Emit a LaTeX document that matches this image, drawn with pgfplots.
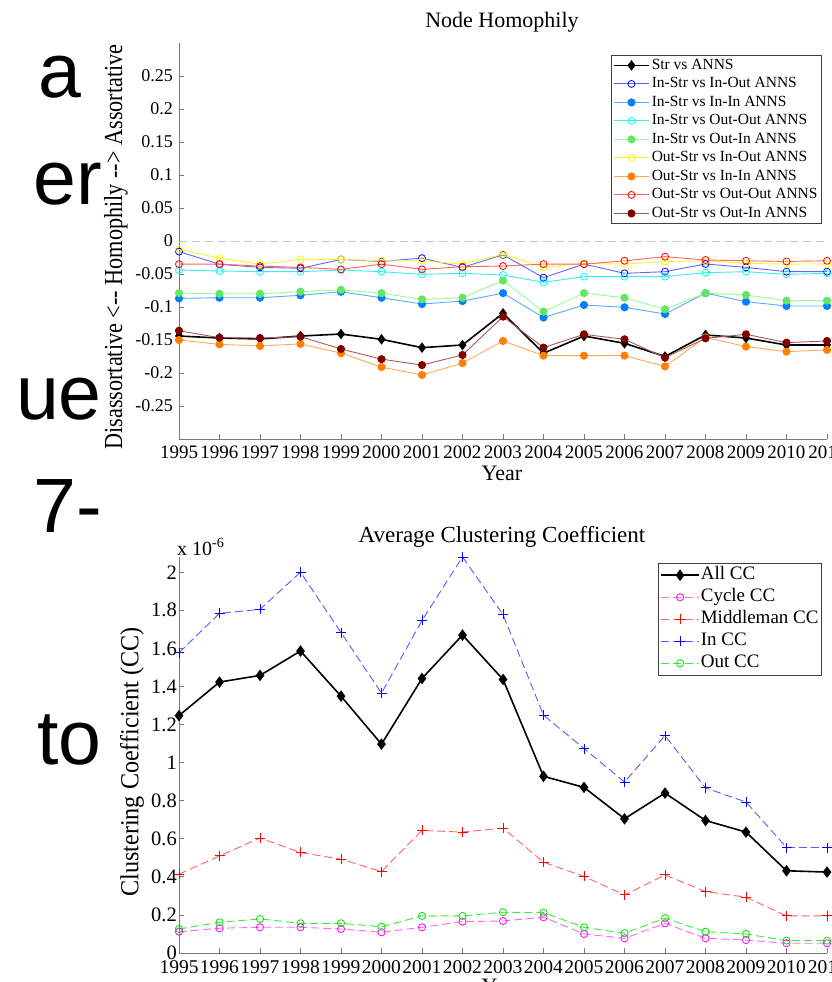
\documentclass[border=0pt]{standalone}
\usepackage{pgfplots}
\pgfplotsset{compat=1.18}
\usepackage{fontspec}
\setmainfont{Liberation Serif}
\newfontfamily\arial{Liberation Sans}
\definecolor{axgray}{RGB}{120,120,120}
\definecolor{cInOut}{RGB}{0,0,255}
\definecolor{lInOut}{RGB}{100,100,255}
\definecolor{cInIn}{RGB}{0,128,255}
\definecolor{lInIn}{RGB}{90,170,255}
\definecolor{cOutOut}{RGB}{0,255,255}
\definecolor{lOutOut}{RGB}{60,235,235}
\definecolor{cOutIn}{RGB}{100,230,100}
\definecolor{lOutIn}{RGB}{150,255,150}
\definecolor{cYel}{RGB}{255,255,0}
\definecolor{lYel}{RGB}{245,245,40}
\definecolor{cOra}{RGB}{255,128,0}
\definecolor{lOra}{RGB}{255,170,90}
\definecolor{cRed}{RGB}{255,0,0}
\definecolor{lRed}{RGB}{255,100,100}
\definecolor{cDRed}{RGB}{128,0,0}
\definecolor{lDRed}{RGB}{170,90,90}
\definecolor{cMag}{RGB}{255,0,255}
\definecolor{lMag}{RGB}{255,100,255}
\definecolor{cGrn}{RGB}{0,230,0}
\definecolor{lGrn}{RGB}{60,235,60}
\definecolor{lBlu}{RGB}{90,90,255}

\pgfplotstableread{
year Str InOut InIn OutOut OutIn OInOut OInIn OOutOut OOutIn
1995 -0.144 -0.016 -0.087 -0.044 -0.079 -0.0126 -0.150 -0.035 -0.136
1996 -0.147 -0.0353 -0.086 -0.0455 -0.080 -0.026 -0.1566 -0.035 -0.1465
1997 -0.1485 -0.040 -0.086 -0.0465 -0.080 -0.035 -0.159 -0.038 -0.147
1998 -0.144 -0.0414 -0.0823 -0.0465 -0.0768 -0.0278 -0.156 -0.040 -0.145
1999 -0.141 -0.028 -0.077 -0.044 -0.074 -0.028 -0.170 -0.043 -0.1636
2000 -0.149 -0.031 -0.086 -0.0465 -0.079 -0.030 -0.191 -0.035 -0.179
2001 -0.1616 -0.026 -0.0955 -0.0505 -0.0884 -0.030 -0.203 -0.043 -0.188
2002 -0.1576 -0.040 -0.091 -0.049 -0.086 -0.035 -0.185 -0.039 -0.1727
2003 -0.1096 -0.021 -0.079 -0.0515 -0.060 -0.020 -0.1515 -0.038 -0.1146
2004 -0.170 -0.0556 -0.116 -0.0626 -0.107 -0.040 -0.1737 -0.035 -0.1616
2005 -0.144 -0.035 -0.097 -0.054 -0.079 -0.034 -0.1737 -0.035 -0.1414
2006 -0.155 -0.049 -0.1005 -0.054 -0.086 -0.035 -0.1737 -0.030 -0.149
2007 -0.175 -0.0465 -0.1106 -0.054 -0.1035 -0.031 -0.190 -0.0237 -0.1768
2008 -0.1424 -0.0348 -0.079 -0.048 -0.079 -0.030 -0.146 -0.0288 -0.1475
2009 -0.147 -0.040 -0.092 -0.0465 -0.0818 -0.034 -0.160 -0.030 -0.1414
2010 -0.1576 -0.0465 -0.0985 -0.0505 -0.0904 -0.035 -0.1677 -0.031 -0.154
2011 -0.1576 -0.0465 -0.0985 -0.049 -0.0904 -0.0348 -0.165 -0.030 -0.1515
}\homtable

\pgfplotstableread{
year All Cycle Middle In Out
1995 1.247 0.112 0.414 1.577 0.126
1996 1.423 0.130 0.510 1.784 0.161
1997 1.458 0.135 0.604 1.805 0.179
1998 1.586 0.135 0.528 2.000 0.156
1999 1.349 0.126 0.493 1.683 0.156
2000 1.097 0.109 0.428 1.365 0.138
2001 1.442 0.135 0.644 1.747 0.195
2002 1.670 0.165 0.635 2.080 0.195
2003 1.437 0.168 0.656 1.778 0.214
2004 0.928 0.188 0.477 1.249 0.212
2005 0.870 0.100 0.402 1.074 0.135
2006 0.705 0.077 0.305 0.898 0.104
2007 0.840 0.156 0.410 1.142 0.183
2008 0.696 0.077 0.323 0.867 0.112
2009 0.635 0.068 0.293 0.793 0.100
2010 0.432 0.051 0.195 0.554 0.065
2011 0.425 0.051 0.195 0.554 0.065
}\cctable

\pgfplotsset{
  mlstyle/.style={
    scale only axis, width=648pt, height=396pt, anchor=south west,
    xmin=1995, xmax=2011,
    axis x line*=bottom, axis y line*=left,
    axis line style={axgray, line width=0.8pt, -},
    tick style={axgray, line width=0.8pt},
    major tick length=5pt, tick align=inside,
    xtick={1995,...,2011},
    xticklabels={1995,1996,1997,1998,1999,2000,2001,2002,2003,2004,2005,2006,2007,2008,2009,2010,2011},
    clip=false,
  }
}

\begin{document}
\begin{tikzpicture}[x=1pt,y=1pt]
\useasboundingbox (0,0) rectangle (832,982);
\clip (0,0) rectangle (832,982);

% slide text fragments
\begin{scope}[every node/.style={anchor=base east, inner sep=0pt, font=\arial\fontsize{77}{77}\selectfont}]
\node at (82,884) {a};
\node at (102,777) {er};
\node at (102,562) {ue};
\node at (102,449) {7-};
\node at (102,217) {to};
\end{scope}

% ---------- Node Homophily ----------
\begin{axis}[mlstyle, at={(179pt,543pt)},
  ymin=-0.3, ymax=0.3,
  ytick={-0.25,-0.2,-0.15,-0.1,-0.05,0,0.05,0.1,0.15,0.2,0.25},
  yticklabels={-0.25,-0.2,-0.15,-0.1,-0.05,0,0.05,0.1,0.15,0.2,0.25},
  yticklabel style={font=\fontsize{18}{18}\selectfont, inner sep=0pt, anchor=east, xshift=-6pt},
  xticklabel style={font=\fontsize{19}{19}\selectfont, inner sep=0pt, anchor=north, yshift=-7pt},
  legend image code/.code={\draw[mark repeat=2,mark phase=2,#1] plot coordinates {(0pt,0pt) (17.5pt,0pt) (35pt,0pt)};},
  legend style={at={(rel axis cs:0.992,0.970)}, anchor=north east, draw=black!75, line width=0.6pt,
    font=\fontsize{15.5}{18}\selectfont, inner xsep=2pt, inner ysep=1pt, row sep=0pt,
    nodes={inner xsep=2pt, inner ysep=2pt, text height=11pt, text depth=3.5pt}},
  legend cell align=left,
]
\addplot[forget plot, black!22, line width=0.8pt, dash pattern=on 8pt off 5pt] coordinates {(1995,0) (2011,0)};
\addplot[black, line width=1.6pt, mark=diamond*, mark size=4pt, mark options={solid}] table[x=year,y=Str]{\homtable};
\addlegendentry{Str vs ANNS}
\addplot[lInOut, line width=0.9pt, mark=o, mark size=3.5pt, mark options={cInOut, line width=0.8pt}] table[x=year,y=InOut]{\homtable};
\addlegendentry{In-Str vs In-Out ANNS}
\addplot[lInIn, line width=0.9pt, mark=*, mark size=3.6pt, mark options={cInIn, fill=cInIn}] table[x=year,y=InIn]{\homtable};
\addlegendentry{In-Str vs In-In ANNS}
\addplot[lOutOut, line width=0.9pt, mark=o, mark size=3.5pt, mark options={cOutOut, line width=0.8pt}] table[x=year,y=OutOut]{\homtable};
\addlegendentry{In-Str vs Out-Out ANNS}
\addplot[lOutIn, line width=0.9pt, mark=*, mark size=3.6pt, mark options={cOutIn, fill=cOutIn}] table[x=year,y=OutIn]{\homtable};
\addlegendentry{In-Str vs Out-In ANNS}
\addplot[lYel, line width=0.9pt, mark=o, mark size=3.5pt, mark options={cYel, line width=0.8pt}] table[x=year,y=OInOut]{\homtable};
\addlegendentry{Out-Str vs In-Out ANNS}
\addplot[lOra, line width=0.9pt, mark=*, mark size=3.6pt, mark options={cOra, fill=cOra}] table[x=year,y=OInIn]{\homtable};
\addlegendentry{Out-Str vs In-In ANNS}
\addplot[lRed, line width=0.9pt, mark=o, mark size=3.5pt, mark options={cRed, line width=0.8pt}] table[x=year,y=OOutOut]{\homtable};
\addlegendentry{Out-Str vs Out-Out ANNS}
\addplot[lDRed, line width=0.9pt, mark=*, mark size=3.6pt, mark options={cDRed, fill=cDRed}] table[x=year,y=OOutIn]{\homtable};
\addlegendentry{Out-Str vs Out-In ANNS}
\end{axis}

% ---------- Average Clustering Coefficient ----------
\begin{axis}[mlstyle, at={(179pt,29pt)},
  ymin=0, ymax=2.08,
  ytick={0,0.2,0.4,0.6,0.8,1,1.2,1.4,1.6,1.8,2},
  yticklabels={0,0.2,0.4,0.6,0.8,1,1.2,1.4,1.6,1.8,2},
  yticklabel style={font=\fontsize{20.5}{20.5}\selectfont, inner sep=0pt, anchor=east, xshift=-2pt},
  xticklabel style={font=\fontsize{19.5}{19.5}\selectfont, inner sep=0pt, anchor=north, yshift=-7.5pt},
  legend image code/.code={\draw[mark repeat=2,mark phase=2,#1] plot coordinates {(0pt,0pt) (19pt,0pt) (38pt,0pt)};},
  legend style={at={(rel axis cs:0.992,0.985)}, anchor=north east, draw=black!75, line width=0.6pt,
    font=\fontsize{19}{22}\selectfont, inner xsep=2pt, inner ysep=1pt, row sep=0pt,
    nodes={inner xsep=1pt, inner ysep=2pt, text height=13.5pt, text depth=4.5pt}},
  legend cell align=left,
]
\addplot[black, line width=1.6pt, mark=diamond*, mark size=4.5pt, mark options={solid}] table[x=year,y=All]{\cctable};
\addlegendentry{All CC}
\addplot[lMag, line width=0.9pt, dash pattern=on 8pt off 4pt, mark=o, mark size=3.6pt, mark options={solid, cMag, line width=0.8pt}] table[x=year,y=Cycle]{\cctable};
\addlegendentry{Cycle CC}
\addplot[lRed, line width=0.9pt, dash pattern=on 8pt off 4pt, mark=+, mark size=5pt, mark options={solid, cRed, line width=0.9pt}] table[x=year,y=Middle]{\cctable};
\addlegendentry{Middleman CC}
\addplot[lBlu, line width=0.9pt, dash pattern=on 8pt off 4pt, mark=+, mark size=5pt, mark options={solid, cInOut, line width=0.9pt}] table[x=year,y=In]{\cctable};
\addlegendentry{In CC}
\addplot[lGrn, line width=0.9pt, dash pattern=on 8pt off 4pt, mark=o, mark size=3.6pt, mark options={solid, cGrn, line width=0.8pt}] table[x=year,y=Out]{\cctable};
\addlegendentry{Out CC}
\end{axis}

% titles and labels
\node[font=\fontsize{22}{22}\selectfont] at (502,960) {Node Homophily};
\node[font=\fontsize{22}{22}\selectfont] at (502,509) {Year};
\node[rotate=90, font=\fontsize{26}{26}\selectfont] at (116,735) {\scalebox{0.855}[1]{Disassortative <-{}- Homophily -{}-> Assortative}};
\node[font=\fontsize{23}{23}\selectfont] at (502,445) {Average Clustering Coefficient};
\node[anchor=west, inner sep=0pt, font=\fontsize{20}{20}\selectfont] at (177,435) {x 10\textsuperscript{-6}};
\node[rotate=90, font=\fontsize{26}{26}\selectfont] at (132,220) {\scalebox{0.93}[1]{Clustering Coefficient (CC)}};
\node[font=\fontsize{22}{22}\selectfont] at (502,-4) {Year};
\end{tikzpicture}
\end{document}
